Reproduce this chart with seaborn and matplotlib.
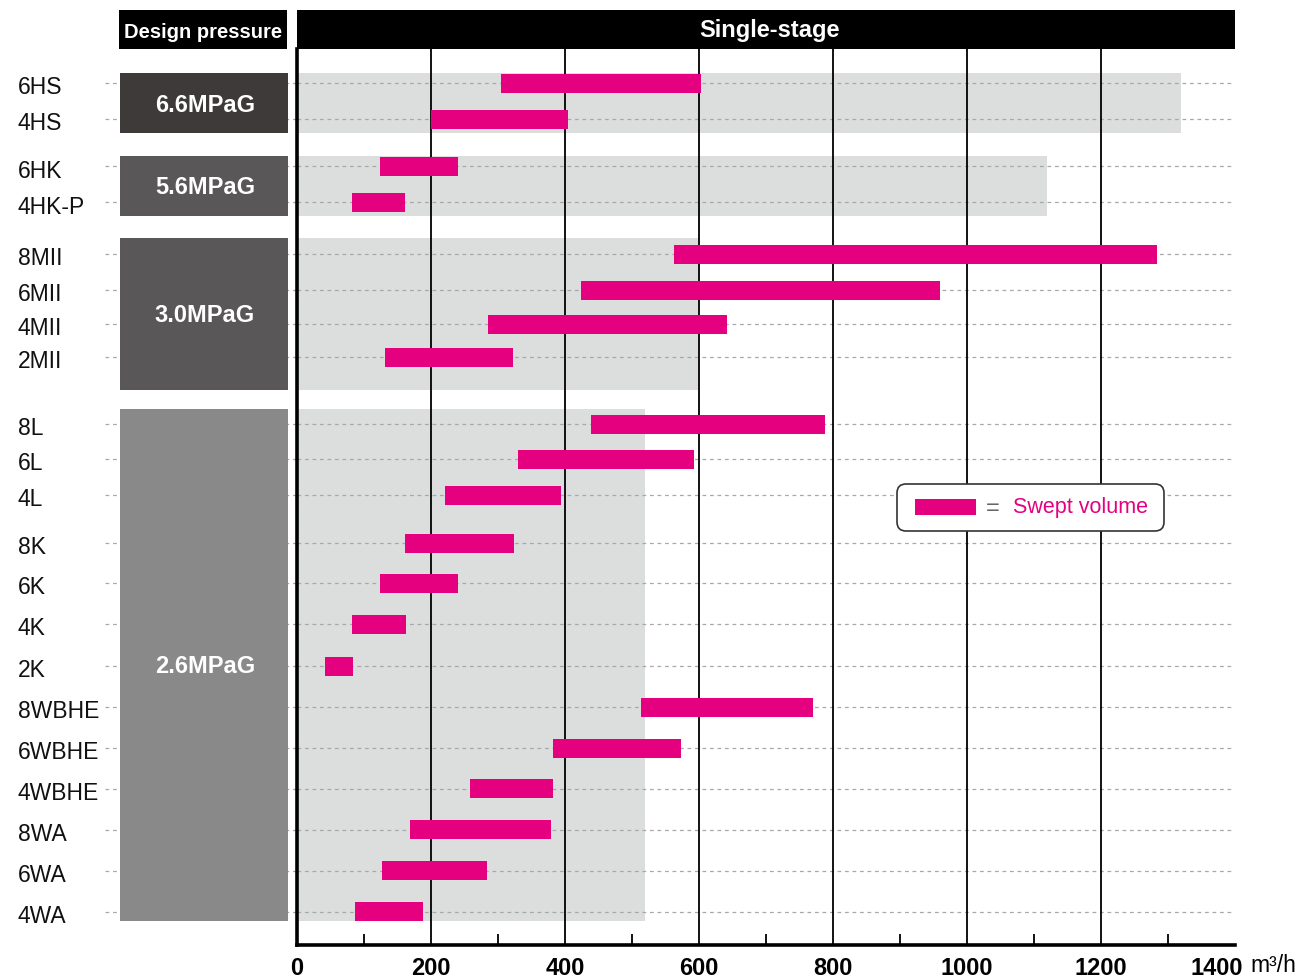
import numpy as np
import matplotlib
matplotlib.use("Agg")
import matplotlib.pyplot as plt
import seaborn as sns
from matplotlib.patches import Rectangle, FancyBboxPatch

# data
models = ["6HS", "4HS", "6HK", "4HK-P", "8MII", "6MII", "4MII", "2MII",
          "8L", "6L", "4L", "8K", "6K", "4K", "2K",
          "8WBHE", "6WBHE", "4WBHE", "8WA", "6WA", "4WA"]
vol_min = [304, 200, 124, 82, 563, 424, 285, 131,
           439, 330, 221, 161, 124, 82, 42,
           513, 382, 258, 169, 127, 87]
vol_max = [603, 404, 240, 161, 1284, 960, 642, 322,
           788, 593, 394, 324, 240, 163, 84,
           770, 573, 382, 379, 284, 188]
pressures = ["6.6MPaG", "5.6MPaG", "3.0MPaG", "2.6MPaG"]
pressure_limit = [1320, 1120, 600, 520]
x_ticks = [0, 200, 400, 600, 800, 1000, 1200, 1400]

# layout, in pixels of the 1301x979 canvas
W, H = 1301, 979
row_y = [84, 120, 167, 203, 255, 291, 325, 358,
         425, 460, 496, 544, 584, 625, 667,
         708, 749, 790, 831, 872, 913]
group_span = [(74, 134), (157, 217), (239, 391), (410, 922)]
box_colors = ["#3E3A39", "#595757", "#595757", "#898989"]
MAGENTA = "#E4007F"
BG = "#DCDDDD"
DASH = "#A8A8A8"

sns.set_theme(style="white")
plt.rcParams["font.family"] = ["Liberation Sans", "DejaVu Sans"]
plt.rcParams["patch.linewidth"] = 0

fig = plt.figure(figsize=(W / 100, H / 100), dpi=100)


def frac(x0, y0, x1, y1):
    return [x0 / W, 1 - y1 / H, (x1 - x0) / W, (y1 - y0) / H]


# decoration layer in pixel units: header and pressure panel
deco = fig.add_axes([0, 0, 1, 1], zorder=0)
deco.set_xlim(0, W)
deco.set_ylim(H, 0)
deco.axis("off")

deco.add_patch(Rectangle((119, 11), 168, 39, facecolor="black", edgecolor="none"))
deco.text(203, 32, "Design pressure", color="white", fontsize=14.5,
          fontweight="bold", ha="center", va="center")
deco.add_patch(Rectangle((297, 11), 938, 39, facecolor="black", edgecolor="none"))
deco.text(770, 31, "Single-stage", color="white", fontsize=17,
          fontweight="bold", ha="center", va="center")

deco.hlines(row_y, 105, 297, colors=DASH, linestyles=(0, (3, 3)), lw=0.9, zorder=1)
for name, (top, bot), col in zip(pressures, group_span, box_colors):
    deco.add_patch(Rectangle((120, top), 168, bot - top, facecolor=col,
                             edgecolor="none", zorder=2))
    deco.text(205, (top + bot) / 2 + 1, name, color="white", fontsize=17,
              fontweight="bold", ha="center", va="center", zorder=3)
for name, y in zip(models, row_y):
    deco.text(18, y + 4, name, fontsize=16.5, color="#111111", ha="left", va="center")

# main chart
ax = fig.add_axes(frac(297, 50, 1235, 946), zorder=1)
ax.set_xlim(0, 1400)
ax.set_ylim(946, 50)
ax.set_facecolor("white")

for (top, bot), lim in zip(group_span, pressure_limit):
    ax.barh((top + bot) / 2, lim, height=bot - top, left=0, color=BG,
            edgecolor="none", linewidth=0, zorder=0.5)
ax.hlines(row_y, 0, 1400, colors=DASH, linestyles=(0, (3, 3)), lw=0.9, zorder=1)
ax.vlines(x_ticks[1:-1], 946, 50, colors="black", lw=1.3, zorder=2)
ax.barh(row_y, np.subtract(vol_max, vol_min), left=vol_min, height=19,
        color=MAGENTA, edgecolor="none", linewidth=0, zorder=3)

for side in ["top", "right"]:
    ax.spines[side].set_visible(False)
for side in ["left", "bottom"]:
    ax.spines[side].set_color("black")
    ax.spines[side].set_linewidth(2.6)

ax.set_yticks([])
ax.set_xticks(x_ticks, labels=[str(t) for t in x_ticks[:-1]] + [""])
ax.set_xticks(np.arange(100, 1400, 200), minor=True)
ax.tick_params(axis="x", which="major", bottom=True, length=0, pad=8,
               labelsize=17, labelcolor="black")
ax.tick_params(axis="x", which="minor", bottom=True, direction="in",
               length=8, width=1.3, color="black")
for lab in ax.get_xticklabels():
    lab.set_fontweight("bold")
ax.annotate("1400", xy=(1400, 0), xycoords=("data", "axes fraction"),
            xytext=(-13, -8), textcoords="offset points", ha="center", va="top",
            fontsize=17, fontweight="bold", color="black")
ax.annotate("m³/h", xy=(1400, 0), xycoords=("data", "axes fraction"),
            xytext=(11, -6), textcoords="offset points", ha="left", va="top",
            fontsize=16.5, color="black")

# legend layer on top
top = fig.add_axes([0, 0, 1, 1], zorder=2)
top.set_xlim(0, W)
top.set_ylim(H, 0)
top.axis("off")
top.add_patch(FancyBboxPatch((897, 485), 267, 47,
                             boxstyle="round,pad=0,rounding_size=9",
                             facecolor="white", edgecolor="#333333", lw=1.2))
top.add_patch(Rectangle((915, 500), 61, 16, facecolor=MAGENTA, edgecolor="none"))
top.text(993, 509, "=", fontsize=17, color="#666666", ha="center", va="center")
top.text(1013, 508, "Swept volume", fontsize=15.5, color=MAGENTA, ha="left", va="center")

fig.savefig("out.png", dpi=100)
